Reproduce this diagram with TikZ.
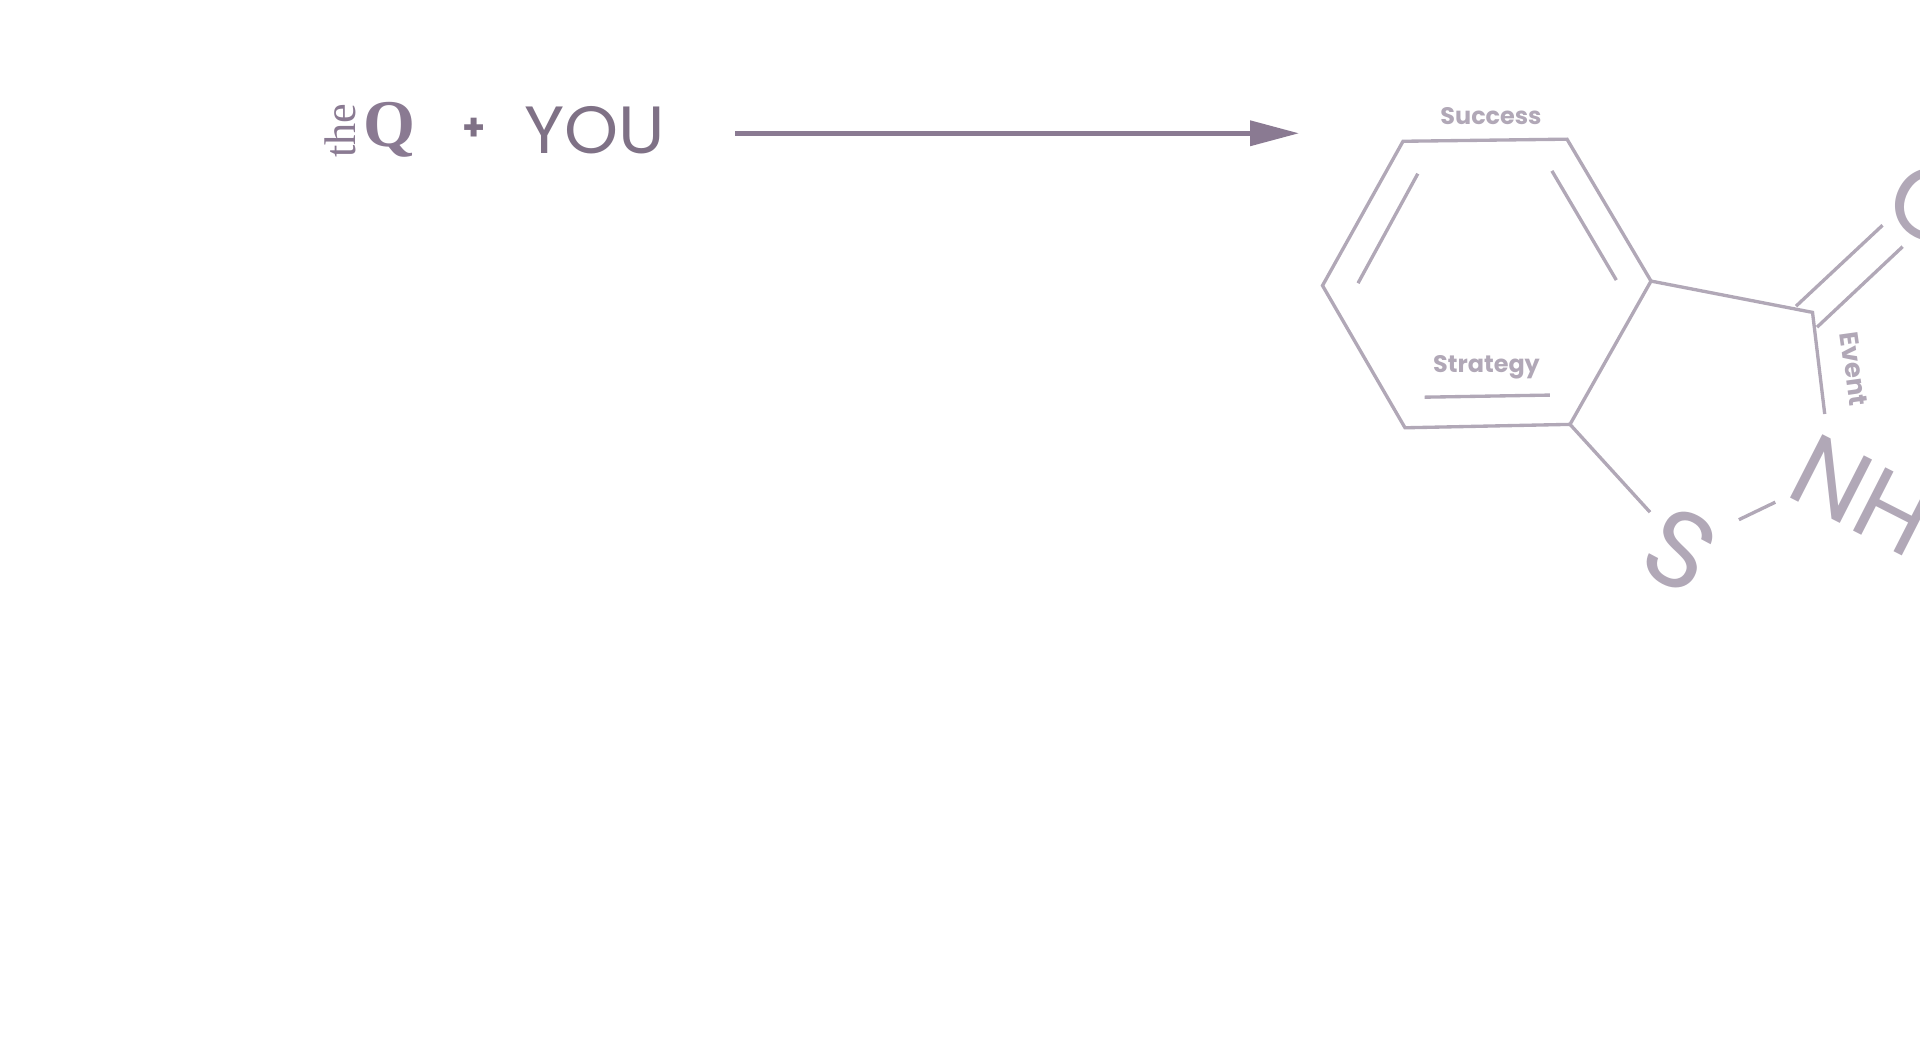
\documentclass[tikz,border=0pt]{standalone}
\usepackage{xcolor}
\usepackage{fontspec}
\usepackage{tikz}
\usetikzlibrary{arrows.meta}
\setmainfont{Liberation Serif}
\newfontfamily\geofont{Poppins}
\definecolor{logoviolet}{HTML}{8A7A92}
\definecolor{youviolet}{HTML}{7F7186}
\definecolor{bondviolet}{HTML}{B1A8B7}

\begin{document}
\begin{tikzpicture}[bond/.style={draw=bondviolet,line width=0.95pt},
    atom/.style={text=bondviolet,inner sep=0pt,font=\geofont\fontsize{29}{29}\selectfont},
    word/.style={text=bondviolet,inner sep=0pt,font=\geofont\bfseries\fontsize{6.8}{6.8}\selectfont}]
    \useasboundingbox (0,0) rectangle (19.2,10.4);
    \clip (0,0) rectangle (19.2,10.4);

    % logo
    \node[text=logoviolet,inner sep=0pt,rotate=90,font=\fontsize{12.6}{12.6}\selectfont] (the) at (3.40,9.095) {the};
    \node[text=logoviolet,inner sep=0pt,font=\bfseries\fontsize{19}{19}\selectfont] (q) at (3.895,9.10) {Q};
    \node[text=youviolet,inner sep=0pt,font=\geofont\bfseries\fontsize{10.5}{10.5}\selectfont] (plus) at (4.74,9.11) {+};
    \node[text=youviolet,inner sep=0pt,xscale=1.03,font=\geofont\fontsize{19}{19}\selectfont] (you) at (5.95,9.095) {YOU};

    \coordinate (arrowfrom) at (7.35,9.067);
    \coordinate (arrowto) at (12.99,9.067);
    \draw[logoviolet,line width=1.3pt,-{Triangle[length=4.9mm,width=2.47mm]}] (arrowfrom) -- (arrowto);

    % ring
    \coordinate (a) at (14.03,8.987);
    \coordinate (b) at (15.67,9.008);
    \coordinate (c) at (16.51,7.589);
    \coordinate (d) at (15.70,6.156);
    \coordinate (e) at (14.05,6.122);
    \coordinate (f) at (13.225,7.544);
    \coordinate (g) at (18.125,7.276);
    \coordinate (h) at (18.247,6.26);
    \coordinate (i) at (16.50,5.278);
    \coordinate (j) at (17.389,5.203);
    \coordinate (k) at (17.753,5.378);

    \coordinate (in1) at (14.178,8.663);
    \coordinate (in2) at (13.58,7.568);
    \coordinate (in3) at (15.519,8.691);
    \coordinate (in4) at (16.163,7.599);
    \coordinate (in5) at (14.246,6.428);
    \coordinate (in6) at (15.499,6.449);
    \coordinate (o1) at (17.96,7.338);
    \coordinate (o2) at (18.825,8.147);
    \coordinate (o3) at (18.17,7.128);
    \coordinate (o4) at (19.026,7.933);

    \draw[bond] (a) -- (b) -- (c) -- (d) -- (e) -- (f) -- cycle;
    \draw[bond] (c) -- (g) -- (h);
    \draw[bond] (d) -- (i);
    \draw[bond] (j) -- (k);
    \draw[bond] (in1) -- (in2);
    \draw[bond] (in3) -- (in4);
    \draw[bond] (in5) -- (in6);
    \draw[bond] (o1) -- (o2);
    \draw[bond] (o3) -- (o4);

    \node[word] (success) at (14.91,9.242) {Success};
    \node[word] (strategy) at (14.865,6.725) {Strategy};
    \node[word,rotate=-82,scale=1.09] (event) at (18.54,6.71) {Event};

    \node[atom,rotate=-28,scale=1.06] (s) at (16.80,4.90) {S};
    \node[atom,rotate=-27,anchor=west] (nh) at (17.985,5.77) {NH};
    \node[atom,rotate=-28] (o) at (19.32,8.35) {O};
\end{tikzpicture}
\end{document}
